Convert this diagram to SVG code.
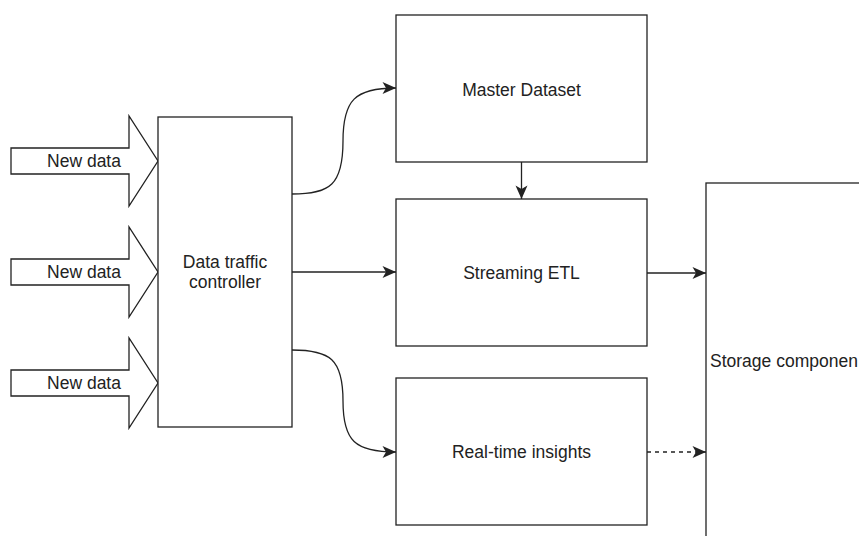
<svg xmlns="http://www.w3.org/2000/svg" width="859" height="536" viewBox="0 0 859 536">
  <style>
    .box { fill: #ffffff; stroke: #222222; stroke-width: 1.3; }
    .edge { fill: none; stroke: #222222; stroke-width: 1.3; }
    .dash { stroke-dasharray: 4 4; }
    .lbl { font-family: "Liberation Sans", Arial, Helvetica, sans-serif; font-size: 17.5px; fill: #222222; }
    .mid { text-anchor: middle; }
  </style>
  <defs>
    <marker id="arrow" markerUnits="userSpaceOnUse" viewBox="-15 -7 17 14" refX="0" refY="0" markerWidth="17" markerHeight="14" orient="auto">
      <path d="M0,0 L-13.5,-6 L-10,0 L-13.5,6 Z" fill="#222222"/>
    </marker>
  </defs>

  <rect width="859" height="536" fill="#ffffff"/>

  <!-- incoming data arrows -->
  <g id="new-data-1">
    <polygon class="box" points="11,148 129,148 129,116 158,161 129,206 129,174 11,174"/>
    <text class="lbl mid" x="84" y="167">New data</text>
  </g>
  <g id="new-data-2">
    <polygon class="box" points="11,259 129,259 129,227 158,272 129,317 129,285 11,285"/>
    <text class="lbl mid" x="84" y="278">New data</text>
  </g>
  <g id="new-data-3">
    <polygon class="box" points="11,370 129,370 129,338 158,383 129,428 129,396 11,396"/>
    <text class="lbl mid" x="84" y="389">New data</text>
  </g>

  <g id="data-traffic-controller">
    <rect class="box" x="158" y="117" width="134" height="310"/>
    <text class="lbl mid" x="225" y="268">Data traffic</text>
    <text class="lbl mid" x="225" y="288">controller</text>
  </g>

  <g id="master-dataset">
    <rect class="box" x="396" y="15" width="251" height="147"/>
    <text class="lbl mid" x="521.5" y="96">Master Dataset</text>
  </g>

  <g id="streaming-etl">
    <rect class="box" x="396" y="199" width="251" height="147"/>
    <text class="lbl mid" x="521.5" y="279">Streaming ETL</text>
  </g>

  <g id="real-time-insights">
    <rect class="box" x="396" y="378" width="251" height="147"/>
    <text class="lbl mid" x="521.5" y="458">Real-time insights</text>
  </g>

  <g id="storage-component">
    <rect class="box" x="706" y="183" width="220" height="400"/>
    <text class="lbl" x="710" y="367">Storage componen</text>
  </g>

  <!-- connectors -->
  <g id="connectors">
    <path class="edge" d="M292,194 C330,194 343,185 343,141 C343,100 355,88 396,88" marker-end="url(#arrow)"/>
    <path class="edge" d="M292,272 L396,272" marker-end="url(#arrow)"/>
    <path class="edge" d="M292,350 C330,350 343,359 343,401 C343,441 355,452 396,452" marker-end="url(#arrow)"/>
    <path class="edge" d="M521.5,162 L521.5,199" marker-end="url(#arrow)"/>
    <path class="edge" d="M647,273 L706,273" marker-end="url(#arrow)"/>
    <path class="edge dash" d="M647,452 L706,452" marker-end="url(#arrow)"/>
  </g>
</svg>
